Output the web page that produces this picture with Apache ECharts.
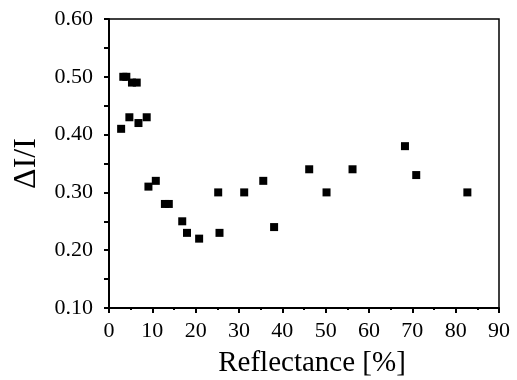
<!DOCTYPE html>
<html>
<head>
<meta charset="utf-8">
<script src="https://cdn.jsdelivr.net/npm/echarts@6/dist/echarts.min.js"></script>
<style>html,body{margin:0;padding:0;background:#fff}#c{width:517px;height:380px}</style>
</head>
<body>
<div id="c"></div>
<script>
const reflectance = [3.3, 4.0, 5.3, 6.4, 2.8, 4.7, 6.8, 8.7, 9.1, 10.8, 12.9, 13.8, 16.9, 18.0, 20.8, 25.2, 25.5, 31.2, 35.6, 38.1, 46.2, 50.2, 56.2, 68.3, 70.9, 82.7];
const deltaI = [0.50, 0.50, 0.49, 0.49, 0.41, 0.43, 0.42, 0.43, 0.31, 0.32, 0.28, 0.28, 0.25, 0.23, 0.22, 0.30, 0.23, 0.30, 0.32, 0.24, 0.34, 0.30, 0.34, 0.38, 0.33, 0.30];
const xTicks = [0, 10, 20, 30, 40, 50, 60, 70, 80, 90];
const yTicks = ['0.10', '0.20', '0.30', '0.40', '0.50', '0.60'];

const font = 'Liberation Serif';
const chart = echarts.init(document.getElementById('c'));
chart.setOption({
  animation: false,
  grid: {left: 109, right: 18, top: 19, bottom: 72, containLabel: false, outerBoundsMode: 'none',
    show: true, borderColor: '#000', borderWidth: 1.5, backgroundColor: 'transparent'},
  xAxis: {
    type: 'value', min: xTicks[0], max: xTicks[xTicks.length - 1], interval: 10,
    name: 'Reflectance [%]', nameLocation: 'middle', nameGap: 41, nameMoveOverlap: false,
    nameTextStyle: {fontFamily: font, fontSize: 29, color: '#000', padding: [0, 0, 0, 16]},
    axisLine: {lineStyle: {color: '#000', width: 2}},
    axisTick: {inside: false, length: 5, lineStyle: {color: '#000', width: 2}},
    minorTick: {show: true, splitNumber: 2, length: 2, lineStyle: {color: '#000', width: 2}},
    splitLine: {show: false},
    axisLabel: {fontFamily: font, fontSize: 22, color: '#000', margin: 12}
  },
  yAxis: {
    type: 'value', min: 0.1, max: 0.6, interval: 0.1,
    name: 'ΔI/I', nameLocation: 'middle', nameGap: 66, nameMoveOverlap: false,
    nameTextStyle: {fontFamily: font, fontSize: 32, color: '#000'},
    axisLine: {lineStyle: {color: '#000', width: 2}},
    axisTick: {inside: false, length: 5, lineStyle: {color: '#000', width: 2}},
    minorTick: {show: true, splitNumber: 2, length: 5, lineStyle: {color: '#000', width: 2}},
    splitLine: {show: false},
    axisLabel: {fontFamily: font, fontSize: 22, color: '#000', margin: 16,
      formatter: v => { const s = v.toFixed(2); return yTicks.includes(s) ? s : ''; }}
  },
  series: [{
    type: 'scatter', symbol: 'rect', symbolSize: 8,
    itemStyle: {color: '#000', opacity: 1},
    data: reflectance.map((x, i) => [x, deltaI[i]])
  }]
});
</script>
</body>
</html>
